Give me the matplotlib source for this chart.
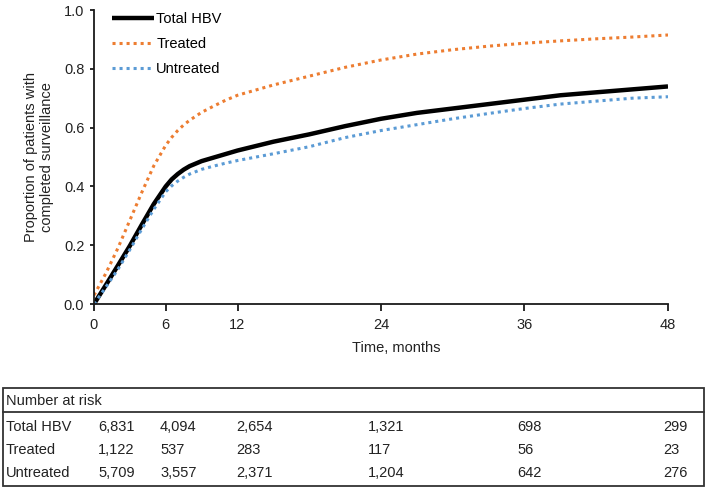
import matplotlib
matplotlib.use("Agg")
import matplotlib.pyplot as plt
from matplotlib.patches import Rectangle
from matplotlib.lines import Line2D

plt.rcParams['font.family'] = ['Liberation Sans', 'DejaVu Sans']

# curve readings (months -> proportion completed)
months = [0, 1, 2, 3, 4, 5, 6, 6.5, 7, 7.5, 8, 9, 10, 11, 12, 15, 18, 21, 24,
          27, 30, 33, 36, 39, 42, 45, 48]
total_hbv = [0.0, 0.065, 0.131, 0.198, 0.27, 0.34, 0.40, 0.424, 0.442, 0.457, 0.469,
             0.486, 0.498, 0.51, 0.522, 0.552, 0.577, 0.605, 0.63, 0.65, 0.665,
             0.68, 0.695, 0.71, 0.72, 0.73, 0.74]
treated = [0.03, 0.105, 0.19, 0.285, 0.38, 0.47, 0.54, 0.567, 0.59, 0.609, 0.625,
           0.652, 0.673, 0.693, 0.71, 0.745, 0.775, 0.805, 0.83, 0.85, 0.865,
           0.877, 0.887, 0.895, 0.902, 0.908, 0.915]
untreated = [0.0, 0.058, 0.118, 0.185, 0.255, 0.322, 0.382, 0.402, 0.418, 0.431, 0.442,
             0.458, 0.469, 0.479, 0.488, 0.511, 0.535, 0.566, 0.59, 0.61, 0.63,
             0.648, 0.665, 0.68, 0.69, 0.70, 0.705]

xticks = [0, 6, 12, 24, 36, 48]
yticks = [0.0, 0.2, 0.4, 0.6, 0.8, 1.0]

# number at risk table
risk_rows = ["Total HBV", "Treated", "Untreated"]
risk_total = ["6,831", "4,094", "2,654", "1,321", "698", "299"]
risk_treated = ["1,122", "537", "283", "117", "56", "23"]
risk_untreated = ["5,709", "3,557", "2,371", "1,204", "642", "276"]

W, H = 709, 488
fig = plt.figure(figsize=(W / 100, H / 100), dpi=100)

# main axes placed by pixel geometry of the reference
x0, x1, y0, y1 = 94, 668, 304, 10
ax = fig.add_axes([x0 / W, 1 - y0 / H, (x1 - x0) / W, (y0 - y1) / H])

orange = "#ED7D31"
blue = "#5B9BD5"
dots = (0, (1, 1.3))

ax.plot(months, total_hbv, color="black", lw=3.2, label="Total HBV",
        solid_capstyle="butt", solid_joinstyle="round")
ax.plot(months, treated, color=orange, lw=2.2, linestyle=dots, label="Treated")
ax.plot(months, untreated, color=blue, lw=2.2, linestyle=dots, label="Untreated")

ax.set_xlim(0, 48)
ax.set_ylim(0, 1.0)
ax.set_xticks(xticks)
ax.set_yticks(yticks)
ax.set_yticklabels([f"{v:.1f}" for v in yticks])
ax.spines[['top', 'right']].set_visible(False)
for s in ['left', 'bottom']:
    ax.spines[s].set_linewidth(1.3)
    ax.spines[s].set_color("#1a1a1a")
ax.tick_params(axis='x', direction='out', length=5, width=1.3, pad=5,
               labelsize=10.5, colors="#1a1a1a", labelcolor="#222222")
ax.tick_params(axis='y', direction='out', length=3, width=1.3, pad=4,
               labelsize=10.5, colors="#1a1a1a", labelcolor="#222222")

ax.set_xlabel("Time, months", fontsize=10.5, color="#222222")
ax.xaxis.set_label_coords(0.526, -0.125)
ax.set_ylabel("Proportion of patients with\ncompleted surveillance",
              fontsize=10.5, color="#222222", linespacing=1.2)
ax.yaxis.set_label_coords(-0.07, 0.5)

leg = ax.legend(loc="upper left", bbox_to_anchor=(0.031, 0.993), frameon=False,
                fontsize=10.5, handlelength=2.9, handletextpad=0.15,
                labelspacing=0.75, borderpad=0, borderaxespad=0)

# number-at-risk table (figure pixel layout)
tx0, tx1, ty0, ty1, tsep = 3, 704, 388, 486, 412
fig.add_artist(Rectangle((tx0 / W, 1 - ty1 / H), (tx1 - tx0) / W, (ty1 - ty0) / H,
                         transform=fig.transFigure, fill=False, lw=1.3, ec="#333333"))
fig.add_artist(Line2D([tx0 / W, tx1 / W], [1 - tsep / H, 1 - tsep / H],
                      transform=fig.transFigure, lw=1.3, color="#333333"))

fig.text(6 / W, 1 - 401 / H, "Number at risk", fontsize=10.5, va="center", ha="left",
         color="#222222")
col_px = [98, 160, 236, 368, 517, 663]
row_px = [427, 450, 473]
for name, vals, py in zip(risk_rows, [risk_total, risk_treated, risk_untreated], row_px):
    fig.text(6 / W, 1 - py / H, name, fontsize=10.5, va="center", ha="left", color="#222222")
    for v, px in zip(vals, col_px):
        fig.text(px / W, 1 - py / H, v, fontsize=10.5, va="center", ha="left", color="#222222")

fig.savefig("out.png", dpi=100)
